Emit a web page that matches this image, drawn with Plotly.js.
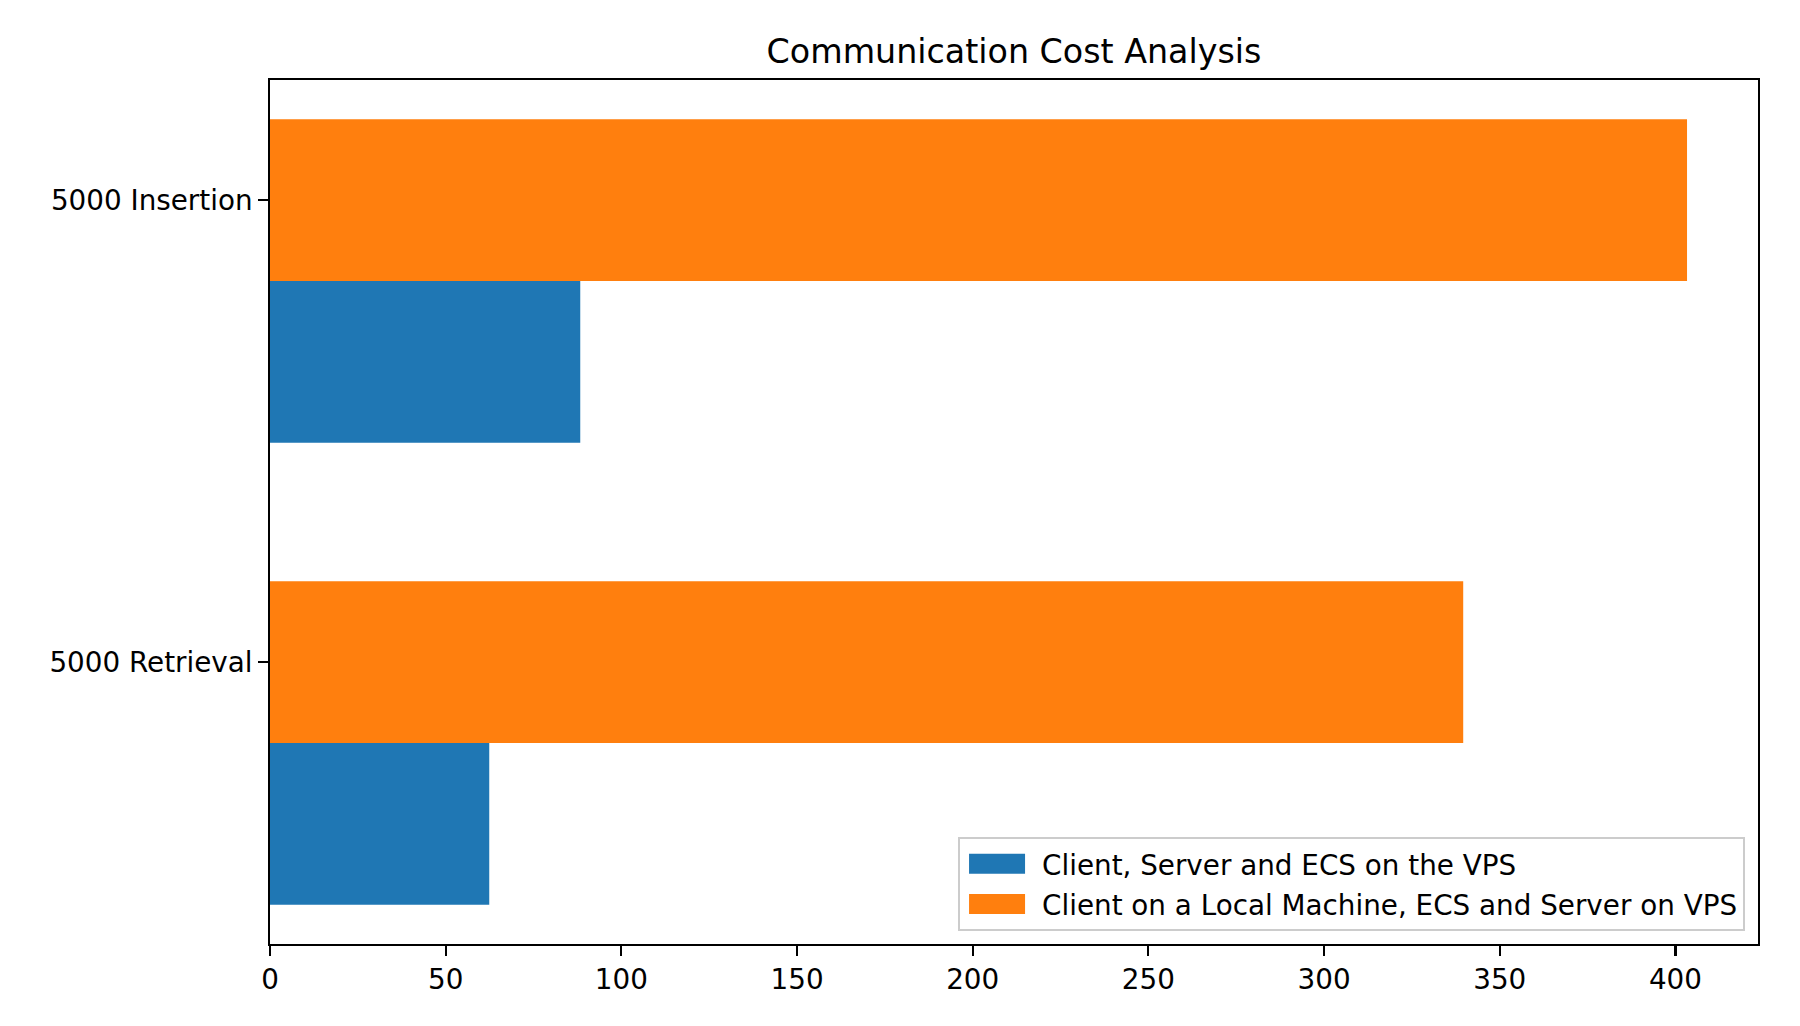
<!DOCTYPE html>
<html>
<head>
<meta charset="utf-8">
<script src="https://cdn.plot.ly/plotly-3.0.1.min.js"></script>
<style>html,body{margin:0;padding:0;background:#fff;}#chart{width:1800px;height:1026px;}</style>
</head>
<body>
<div id="chart"></div>
<script>
const categories = ["5000 Retrieval", "5000 Insertion"];
const seriesNames = ["Client, Server and ECS on the VPS", "Client on a Local Machine, ECS and Server on VPS"];
const vpsValues = [62.4, 88.3];
const localValues = [339.6, 403.3];
const xTicks = [0, 50, 100, 150, 200, 250, 300, 350, 400];

const font = {family: "DejaVu Sans", color: "#000"};
const barWidth = 0.35;

const traces = [
  {
    type: "bar", orientation: "h", name: seriesNames[0],
    y: categories, x: vpsValues,
    width: barWidth, offset: -1.5 * barWidth,
    legendgroup: "g1",
    marker: {color: "#1f77b4", line: {width: 0}},
    hoverinfo: "x+name"
  },
  {
    type: "bar", orientation: "h", name: seriesNames[1],
    y: categories, x: localValues,
    width: barWidth, offset: -0.5 * barWidth,
    legendgroup: "g2",
    marker: {color: "#ff7f0e", line: {width: 0}},
    hoverinfo: "x+name"
  }
];

const layout = {
  width: 1800, height: 1026,
  paper_bgcolor: "#fff", plot_bgcolor: "#fff",
  margin: {l: 270, r: 42, t: 80, b: 82, pad: 0},
  barmode: "overlay",
  showlegend: true,
  title: {
    text: "Communication Cost Analysis",
    font: Object.assign({size: 33.3}, font),
    xref: "paper", x: 0.5, xanchor: "center",
    yref: "container", y: 0.9496, yanchor: "middle"
  },
  xaxis: {
    range: [0, 423.5],
    tickvals: xTicks, ticktext: xTicks.map(String),
    showgrid: false, zeroline: false,
    showline: true, mirror: true, linecolor: "#000", linewidth: 2.2,
    ticks: "outside", ticklen: 9.7, tickwidth: 2.2, tickcolor: "#000",
    tickfont: Object.assign({size: 27.8}, font)
  },
  yaxis: {
    type: "category", categoryorder: "array", categoryarray: categories,
    range: [-0.61, 1.26],
    showgrid: false, zeroline: false,
    showline: true, mirror: true, linecolor: "#000", linewidth: 2.2,
    ticks: "outside", ticklen: 9.7, tickwidth: 2.2, tickcolor: "#000",
    tickfont: Object.assign({size: 27.8}, font)
  },
  legend: {
    xref: "paper", yref: "paper",
    x: 0.9913, xanchor: "right",
    y: 0.0147, yanchor: "bottom",
    bgcolor: "rgba(255,255,255,0.8)",
    bordercolor: "#cccccc", borderwidth: 2,
    font: Object.assign({size: 27.8}, font),
    traceorder: "grouped", tracegroupgap: 1,
    itemwidth: 72
  }
};

Plotly.newPlot("chart", traces, layout, {displayModeBar: false, staticPlot: true}).then(function (gd) {
  // enlarge legend patches to matplotlib-like rectangles
  gd.querySelectorAll(".legend .legendpoints path").forEach(function (p) {
    p.setAttribute("d", "M-32,-10H24V10H-32Z");
  });
});
</script>
</body>
</html>
